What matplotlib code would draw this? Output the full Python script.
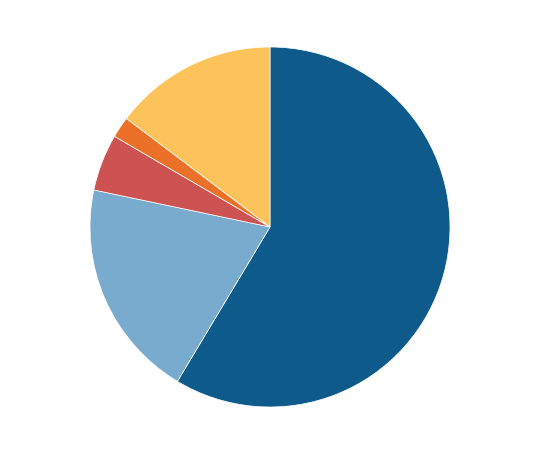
import matplotlib
matplotlib.use("Agg")
import matplotlib.pyplot as plt

labels = ["A", "B", "C", "D", "E"]
values = [58.6, 19.7, 5.1, 1.9, 14.7]
colors = ["#0d5a8b", "#78abcd", "#cd5352", "#ea7127", "#fdc35b"]

fig = plt.figure(figsize=(5.4, 4.55), dpi=100)
ax = fig.add_axes([(270-180)/540, (228-180)/455, 360/540, 360/455])
ax.pie(values, colors=colors, startangle=90, counterclock=False,
       wedgeprops=dict(linewidth=0.5, edgecolor="white"))
ax.set_aspect("equal")
ax.set_xlim(-1, 1); ax.set_ylim(-1, 1)
ax.axis("off")
fig.savefig("out.png", dpi=100)
